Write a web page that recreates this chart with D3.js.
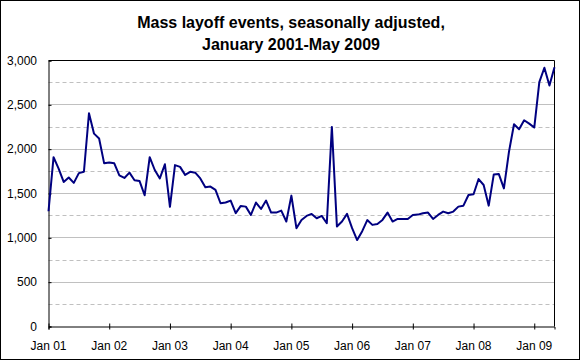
<!DOCTYPE html>
<html>
<head>
<meta charset="utf-8">
<script src="https://cdn.jsdelivr.net/npm/d3@7"></script>
<style>
  html, body { margin: 0; padding: 0; background: #fff; }
  svg { display: block; }
  text { font-family: "Liberation Sans", Arial, sans-serif; fill: #000; }
</style>
</head>
<body>
<svg id="chart" width="580" height="360"></svg>
<script>
// ---- data ----
const titleLines = ["Mass layoff events, seasonally adjusted,", "January 2001-May 2009"];
const tickLabels = ["Jan 01", "Jan 02", "Jan 03", "Jan 04", "Jan 05", "Jan 06", "Jan 07", "Jan 08", "Jan 09"];
const yTicks = [0, 500, 1000, 1500, 2000, 2500, 3000];
const yMinorTicks = [250, 750, 1250, 1750, 2250, 2750];
// monthly values, Jan 2001 .. May 2009
const values2001 = [1300, 1910, 1780, 1630, 1680, 1620, 1730, 1745, 2405, 2175, 2120, 1840];
const values2002 = [1850, 1840, 1705, 1675, 1735, 1650, 1640, 1480, 1910, 1765, 1670, 1830];
const values2003 = [1350, 1820, 1800, 1710, 1745, 1735, 1670, 1570, 1578, 1540, 1390, 1398];
const values2004 = [1420, 1278, 1360, 1352, 1258, 1398, 1326, 1420, 1285, 1285, 1307, 1184];
const values2005 = [1476, 1109, 1202, 1247, 1270, 1221, 1247, 1165, 2251, 1127, 1184, 1270];
const values2006 = [1109, 975, 1075, 1200, 1146, 1157, 1202, 1285, 1184, 1213, 1213, 1213];
const values2007 = [1258, 1262, 1277, 1285, 1213, 1258, 1296, 1277, 1296, 1352, 1363, 1483];
const values2008 = [1491, 1663, 1596, 1363, 1715, 1719, 1558, 1970, 2281, 2225, 2326, 2288];
const values2009 = [2244, 2756, 2918, 2719, 2925];
const values = [].concat(values2001, values2002, values2003, values2004, values2005,
                         values2006, values2007, values2008, values2009);

// ---- drawing ----
const svg = d3.select("#chart");
const W = 580, H = 360;
const pLeft = 48.5, pRight = 554.5, pTop = 60.5, pBottom = 326.5;

svg.append("rect").attr("x", 0.5).attr("y", 0.5).attr("width", W - 1).attr("height", H - 1)
  .attr("fill", "#fff").attr("stroke", "#000").attr("stroke-width", 1);

const x = d3.scaleLinear().domain([0, values.length - 1]).range([pLeft, pRight]);
const y = d3.scaleLinear().domain([0, 3000]).range([pBottom, pTop]);

// title
svg.append("text").attr("x", 291).attr("y", 28).attr("text-anchor", "middle")
  .style("font-size", "16px").style("font-weight", "bold").text(titleLines[0]);
svg.append("text").attr("x", 291).attr("y", 50).attr("text-anchor", "middle")
  .style("font-size", "16px").style("font-weight", "bold").text(titleLines[1]);

// gridlines
const g = svg.append("g");
g.selectAll(".minor").data(yMinorTicks).enter().append("line")
  .attr("x1", pLeft).attr("x2", pRight)
  .attr("y1", d => Math.floor(y(d)) + 0.5).attr("y2", d => Math.floor(y(d)) + 0.5)
  .attr("stroke", "#c0c0c0").attr("stroke-dasharray", "4,3");
g.selectAll(".major").data(yTicks.filter(d => d > 0 && d < 3000)).enter().append("line")
  .attr("x1", pLeft).attr("x2", pRight)
  .attr("y1", d => Math.floor(y(d)) + 0.5).attr("y2", d => Math.floor(y(d)) + 0.5)
  .attr("stroke", "#c0c0c0");

// plot frame (top & right)
svg.append("path").attr("d", `M${pLeft},${pTop}H${pRight}V${pBottom}`)
  .attr("fill", "none").attr("stroke", "#000");

// y axis
const yAxis = d3.axisRight(y).tickValues(yTicks).tickSize(3).tickFormat("");
const ya = svg.append("g").attr("transform", `translate(${pLeft},0)`).call(yAxis);
ya.select(".domain").attr("stroke", "#000");
ya.selectAll(".tick line").attr("stroke", "#000");
svg.selectAll(".ylab").data(yTicks).enter().append("text")
  .attr("x", 37).attr("y", d => y(d)).attr("dy", "0.35em").attr("text-anchor", "end")
  .style("font-size", "12px").text(d => d3.format(",")(d));

// x axis
const xTickVals = tickLabels.map((_, i) => i * 12);
const xAxis = d3.axisBottom(x).tickValues(xTickVals).tickSize(3).tickFormat("");
const xa = svg.append("g").attr("transform", `translate(0,${pBottom})`).call(xAxis);
xa.select(".domain").attr("stroke", "#000");
xa.selectAll(".tick line").attr("stroke", "#000").attr("y1", -3).attr("y2", 3);
svg.selectAll(".xlab").data(tickLabels).enter().append("text")
  .attr("x", (d, i) => x(xTickVals[i])).attr("y", 350).attr("text-anchor", "middle")
  .style("font-size", "12px").text(d => d);

// line
const line = d3.line().x((d, i) => x(i)).y(d => y(d));
svg.append("path").datum(values).attr("d", line)
  .attr("fill", "none").attr("stroke", "#000080").attr("stroke-width", 2)
  .attr("stroke-linejoin", "round");
</script>
</body>
</html>
